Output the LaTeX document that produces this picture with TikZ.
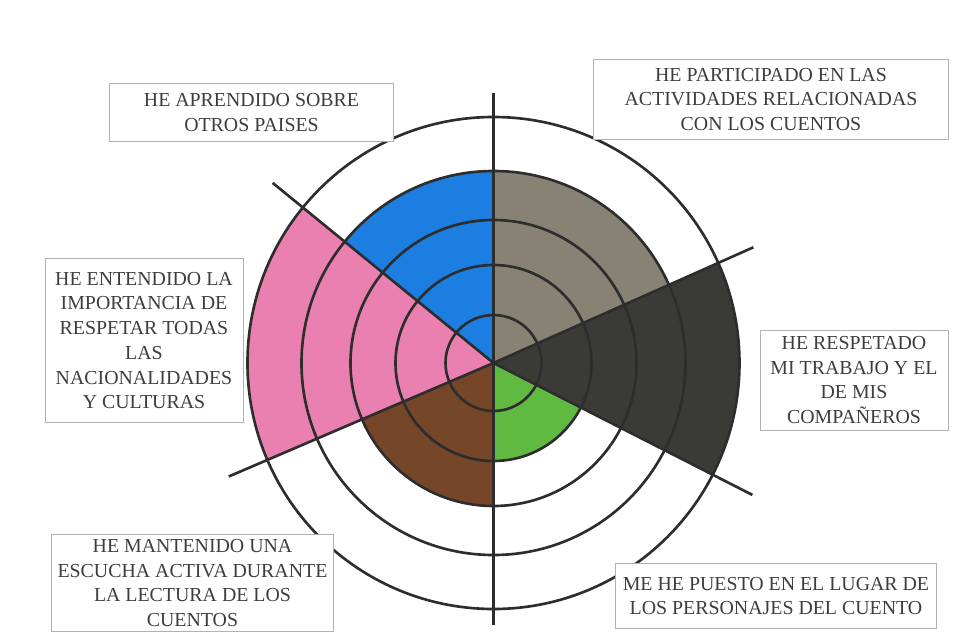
\documentclass[tikz,border=0pt]{standalone}
\usepackage{fontspec}
\setmainfont{Liberation Serif}
\usepackage{xcolor}
\usepackage{tikz}

\definecolor{inkgray}{RGB}{45,45,45}
\definecolor{textgray}{RGB}{62,62,62}
\definecolor{crayonblue}{RGB}{28,126,224}
\definecolor{crayontaupe}{RGB}{136,130,116}
\definecolor{crayonblack}{RGB}{58,58,54}
\definecolor{crayongreen}{RGB}{96,186,66}
\definecolor{crayonbrown}{RGB}{118,70,40}
\definecolor{crayonpink}{RGB}{234,128,176}

\begin{document}
\begin{tikzpicture}[
  ring/.style={draw=inkgray, line width=1.5pt},
  spoke/.style={draw=inkgray, line width=1.5pt},
  statement/.style={draw=gray!60, fill=white, line width=0.5pt, align=center, text=textgray,
    font=\fontsize{11.3}{14.1}\selectfont, inner sep=2pt}
]
\useasboundingbox (-9.87,-5.6) rectangle (9.29,7.26);

% Centre of the wheel
\coordinate (O) at (0,0);

% Coloured sectors
\fill[crayonblue] (O) -- (90:3.84) arc[start angle=90, end angle=140.8, radius=3.84] -- cycle;
\fill[crayontaupe] (O) -- (24:3.84) arc[start angle=24, end angle=90, radius=3.84] -- cycle;
\fill[crayonblack] (O) -- (-27:4.92) arc[start angle=-27, end angle=24, radius=4.92] -- cycle;
\fill[crayongreen] (O) -- (-90:1.96) arc[start angle=-90, end angle=-27, radius=1.96] -- cycle;
\fill[crayonbrown] (O) -- (203.2:2.86) arc[start angle=203.2, end angle=270, radius=2.86] -- cycle;
\fill[crayonpink] (O) -- (140.8:4.92) arc[start angle=140.8, end angle=203.2, radius=4.92] -- cycle;

% Rings
\foreach \r in {0.96,1.96,2.86,3.84,4.92}
  \draw[ring] (O) circle[radius=\r];

% Spokes
\coordinate (top) at (90:5.4);
\coordinate (bottom) at (-90:5.24);
\coordinate (upleft) at (140.8:5.7);
\coordinate (upright) at (24:5.69);
\coordinate (downright) at (-27:5.81);
\coordinate (downleft) at (203.2:5.76);

\draw[spoke] (top) -- (bottom);
\draw[spoke] (upleft) -- (O) -- (downright);
\draw[spoke] (downleft) -- (O) -- (upright);

% Statements
\node[statement, minimum width=5.68cm, minimum height=1.16cm] (paises) at (-4.84,5.01)
  {HE APRENDIDO SOBRE\\OTROS PAISES};
\node[statement, minimum width=7.1cm, minimum height=1.61cm] (actividades) at (5.55,5.27)
  {HE PARTICIPADO EN LAS\\ACTIVIDADES RELACIONADAS\\CON LOS CUENTOS};
\node[statement, minimum width=3.96cm, minimum height=3.28cm] (culturas) at (-6.99,0.45)
  {HE ENTENDIDO LA\\IMPORTANCIA DE\\RESPETAR TODAS\\LAS\\NACIONALIDADES\\Y CULTURAS};
\node[statement, minimum width=3.76cm, minimum height=2.0cm] (trabajo) at (7.21,-0.34)
  {HE RESPETADO\\MI TRABAJO Y EL\\DE MIS\\COMPA\~NEROS};
\node[statement, minimum width=5.64cm, minimum height=1.95cm] (escucha) at (-6.02,-4.40)
  {HE MANTENIDO UNA\\ESCUCHA ACTIVA DURANTE\\LA LECTURA DE LOS\\CUENTOS};
\node[statement, minimum width=6.43cm, minimum height=1.30cm] (personajes) at (5.65,-4.66)
  {ME HE PUESTO EN EL LUGAR DE\\LOS PERSONAJES DEL CUENTO};

\end{tikzpicture}
\end{document}
